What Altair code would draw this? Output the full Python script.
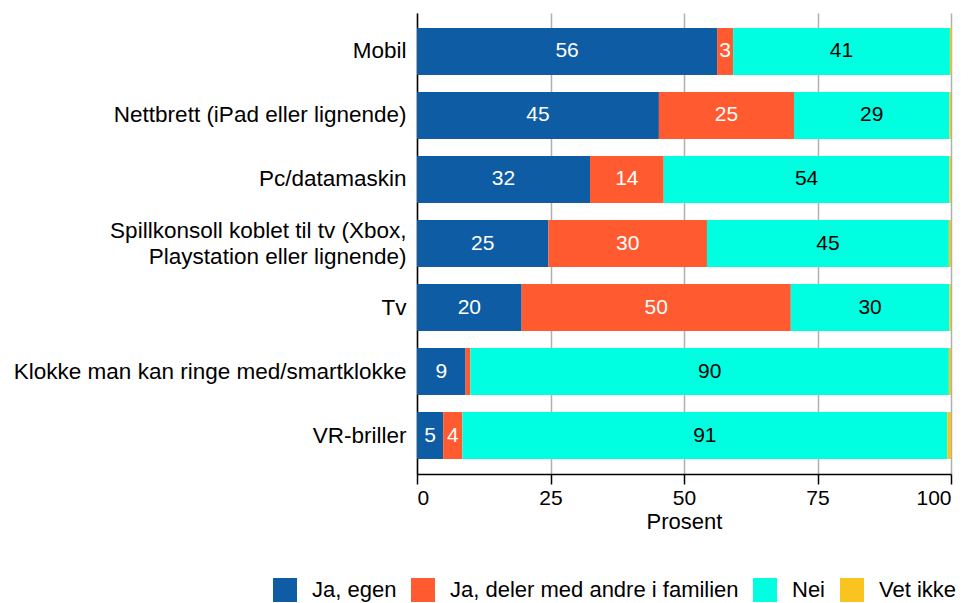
import altair as alt
import pandas as pd

categories = [
    "Mobil",
    "Nettbrett (iPad eller lignende)",
    "Pc/datamaskin",
    "Spillkonsoll koblet til tv (Xbox,\nPlaystation eller lignende)",
    "Tv",
    "Klokke man kan ringe med/smartklokke",
    "VR-briller",
]
responses = ["Ja, egen", "Ja, deler med andre i familien", "Nei", "Vet ikke"]
colors = ["#0E5CA4", "#FF5A30", "#00FFE0", "#F9C320"]

ja_egen = [56.2, 45.3, 32.4, 24.6, 19.6, 9.1, 4.9]
ja_deler = [3.0, 25.3, 13.8, 29.7, 50.4, 0.9, 3.6]
nei = [40.6, 29.1, 53.5, 45.3, 29.7, 89.6, 90.8]
vet_ikke = [0.3, 0.3, 0.3, 0.4, 0.3, 0.4, 0.7]

rows = []
for i, c in enumerate(categories):
    for j, (r, vals) in enumerate(zip(responses, [ja_egen, ja_deler, nei, vet_ikke])):
        v = vals[i]
        rows.append({"category": c, "response": r, "value": v, "order": j,
                     "label": str(int(round(v)))})
df = pd.DataFrame(rows)

font = "Liberation Sans"

base = alt.Chart(df).transform_stack(
    stack="value", as_=["x0", "x1"], groupby=["category"],
    sort=[alt.SortField("order", order="ascending")]
)

y_enc = alt.Y("category:N", sort=categories, title=None,
              scale=alt.Scale(paddingInner=0.266, paddingOuter=0.234),
              axis=alt.Axis(labelFontSize=22.5, labelColor="black", labelFont=font,
                            domainColor="black", domainWidth=1.5, ticks=False,
                            labelPadding=11, labelLimit=600, labelLineHeight=26,
                            labelOffset={"condition": {"test": "indexof(datum.value, '\\n') >= 0",
                                                       "value": -13},
                                         "value": 0},
                            labelExpr="split(datum.label, '\\n')"))

bars = base.mark_bar().encode(
    y=y_enc,
    x=alt.X("x0:Q", scale=alt.Scale(domain=[0, 100], nice=False),
            title="Prosent",
            axis=alt.Axis(values=[0, 25, 50, 75, 100], labelFontSize=21,
                          labelColor="black", labelFont=font, titleFont=font,
                          titleFontSize=22, titleFontWeight="normal", titleColor="black",
                          domainColor="black", domainWidth=1.5, tickColor="black",
                          tickSize=10, tickWidth=1.5, gridColor="#B0B0B0",
                          gridWidth=1.5, labelPadding=3, titlePadding=3)),
    x2="x1:Q",
    color=alt.Color("response:N", scale=alt.Scale(domain=responses, range=colors),
                    sort=responses, title=None,
                    legend=alt.Legend(orient="none", direction="horizontal",
                                      legendX=-144, legendY=565,
                                      labelFontSize=22, labelFont=font,
                                      labelColor="black",
                                      symbolType="square",
                                      symbolSize=576, symbolStrokeWidth=0,
                                      symbolOpacity=1, columnPadding=14,
                                      labelOffset=15, labelLimit=500)),
)

text = base.transform_calculate(mid="(datum.x0 + datum.x1) / 2").transform_filter(
    "datum.value >= 2.5"
).mark_text(fontSize=21, font=font).encode(
    y=alt.Y("category:N", sort=categories),
    x=alt.X("mid:Q"),
    text="label:N",
    color=alt.condition("datum.response == 'Nei'", alt.value("black"), alt.value("white")),
)

chart = (bars + text).properties(
    width=534, height=461,
    padding={"left": 5, "top": 5, "right": 0, "bottom": 0},
).configure_view(stroke=None).configure_axisY(grid=False)

chart.save("out.html", embed_options={"renderer": "svg", "actions": False})
